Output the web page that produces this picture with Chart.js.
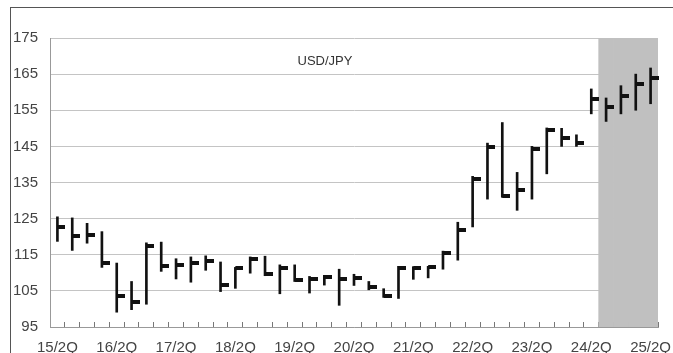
<!DOCTYPE html>
<html>
<head>
<meta charset="utf-8">
<script src="https://cdn.jsdelivr.net/npm/chart.js@4.4.1/dist/chart.umd.min.js"></script>
<style>
  html, body { margin: 0; padding: 0; background: #fff; overflow: hidden; }
  #wrap { position: relative; width: 673px; height: 353px; }
  #frame { position: absolute; left: 10px; top: 7px; width: 700px; height: 400px; border: 1px solid #555; pointer-events: none; }
  #chart { position: absolute; left: 0; top: 0; }
</style>
</head>
<body>
<div id="wrap">
  <canvas id="chart" width="673" height="353"></canvas>
  <div id="frame"></div>
</div>
<script>
// quarterly USD/JPY, 15/2Q .. 25/2Q
const quarters = [
  "15/2Q", "15/3Q", "15/4Q", "16/1Q", "16/2Q", "16/3Q", "16/4Q", "17/1Q",
  "17/2Q", "17/3Q", "17/4Q", "18/1Q", "18/2Q", "18/3Q", "18/4Q", "19/1Q",
  "19/2Q", "19/3Q", "19/4Q", "20/1Q", "20/2Q", "20/3Q", "20/4Q", "21/1Q",
  "21/2Q", "21/3Q", "21/4Q", "22/1Q", "22/2Q", "22/3Q", "22/4Q", "23/1Q",
  "23/2Q", "23/3Q", "23/4Q", "24/1Q", "24/2Q", "24/3Q", "24/4Q", "25/1Q",
  "25/2Q"
];
const highs = [
  125.5, 125.2, 123.7, 121.4, 112.7, 107.6, 118.3, 118.5,
  113.9, 114.4, 114.7, 113.0, 111.5, 114.4, 114.6, 112.2,
  112.2, 109.0, 109.3, 111.0, 109.6, 107.6, 105.6, 111.8,
  111.7, 111.8, 116.0, 124.0, 136.7, 145.9, 151.6, 137.8,
  145.0, 150.1, 150.0, 148.2, 160.9, 158.4, 161.8, 165.0,
  166.7
];
const lows = [
  118.7, 116.2, 118.2, 111.5, 99.1, 99.8, 101.3, 110.4,
  108.3, 107.4, 110.7, 104.8, 105.7, 109.9, 109.2, 104.2,
  107.6, 104.4, 106.6, 101.0, 106.5, 105.3, 103.2, 102.9,
  108.2, 108.6, 111.0, 113.5, 122.7, 130.4, 130.9, 127.3,
  130.4, 137.4, 145.0, 145.0, 154.0, 151.9, 154.0, 155.0,
  156.8
];
const closes = [
  122.6, 120.3, 120.6, 112.7, 103.5, 101.8, 117.3, 111.8,
  112.3, 112.8, 113.2, 106.6, 111.2, 113.8, 109.8, 111.3,
  108.0, 108.4, 108.8, 108.2, 108.6, 106.1, 103.7, 111.3,
  111.4, 111.5, 115.5, 121.9, 136.0, 144.8, 131.2, 133.0,
  144.3, 149.4, 147.3, 145.9, 158.0, 155.9, 159.0, 162.2,
  164.0
];
const yTicks = [95, 105, 115, 125, 135, 145, 155, 165, 175];
const shadedFrom = "24/3Q"; // forecast quarters

const fontFamily = "'Liberation Sans', Arial, sans-serif";
const textColor = "#444";

// close marker: a short dash to the right of the high-low line
const dash = document.createElement("canvas");
dash.width = 16;
dash.height = 4;
const dctx = dash.getContext("2d");
dctx.fillStyle = "#111";
dctx.fillRect(8, 0, 8, 4);

const yMin = yTicks[0];
const yMax = yTicks[yTicks.length - 1];
const shadeStart = quarters.indexOf(shadedFrom);

const titlePlugin = {
  id: "innerTitle",
  afterDraw(chart) {
    const ctx = chart.ctx;
    ctx.save();
    ctx.font = "13px " + fontFamily;
    ctx.fillStyle = "#333";
    ctx.textAlign = "center";
    ctx.textBaseline = "middle";
    ctx.fillText("USD/JPY", 325, 61);
    ctx.restore();
  }
};

new Chart(document.getElementById("chart"), {
  type: "bar",
  data: {
    labels: quarters,
    datasets: [
      {
        type: "line",
        label: "Close",
        data: closes,
        showLine: false,
        pointStyle: dash,
        pointRadius: 3,
        order: 1
      },
      {
        label: "High-Low",
        data: quarters.map((q, i) => [lows[i], highs[i]]),
        backgroundColor: "#111",
        barThickness: 2,
        grouped: false,
        order: 2
      },
      {
        label: "Forecast",
        data: quarters.map((q, i) => (i >= shadeStart ? [yMin, yMax] : null)),
        backgroundColor: "#c0c0c0",
        barPercentage: 1,
        categoryPercentage: 1,
        grouped: false,
        order: 3
      }
    ]
  },
  options: {
    responsive: false,
    animation: false,
    layout: { padding: { left: 0, top: 38, right: 15, bottom: 0 } },
    plugins: {
      legend: { display: false },
      tooltip: { enabled: false }
    },
    scales: {
      x: {
        offset: true,
        grid: {
          offset: true,
          drawOnChartArea: false,
          drawTicks: true,
          tickLength: -5,
          color: "#777"
        },
        border: { display: true, color: "#999" },
        ticks: {
          autoSkip: false,
          maxRotation: 0,
          padding: 17,
          color: textColor,
          font: { family: fontFamily, size: 15 },
          callback: (v, i) => (i % 4 === 0 ? quarters[i] : "")
        },
        afterFit: (s) => {
          s.height = 26;
          s.paddingLeft = 0;
          s.paddingRight = 0;
        }
      },
      y: {
        min: yMin,
        max: yMax,
        afterBuildTicks: (s) => { s.ticks = yTicks.map((v) => ({ value: v })); },
        grid: { color: "#c4c4c4", drawTicks: false },
        border: { display: true, color: "#999" },
        ticks: {
          padding: 12,
          color: textColor,
          font: { family: fontFamily, size: 15 }
        },
        afterFit: (s) => { s.width = 50; }
      }
    }
  },
  plugins: [titlePlugin]
});
</script>
</body>
</html>
